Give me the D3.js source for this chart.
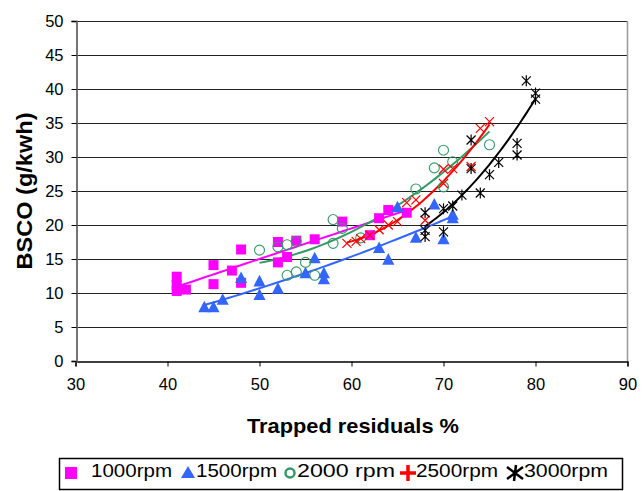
<!DOCTYPE html>
<html><head><meta charset="utf-8">
<script src="https://cdn.jsdelivr.net/npm/d3@7/dist/d3.min.js"></script>
<style>body{margin:0;background:#fff}svg{display:block}text{font-family:Arial,"Liberation Sans",sans-serif}</style>
</head><body><svg id="c" width="642" height="491"></svg>
<script>
// ---- data ----
const xTicks = [30,40,50,60,70,80,90];
const yTicks = [0,5,10,15,20,25,30,35,40,45,50];
const seriesNames = ["1000rpm","1500rpm","2000 rpm","2500rpm","3000rpm"];
const rpm1000 = [[41,12.4],[41,11.2],[41,10.3],[42,10.5],[45,14.1],[45,11.3],[47,13.3],[48,16.4],[48,11.5],[52,17.5],[52,14.5],[53,15.3],[54,17.7],[56,17.9],[59,20.5],[62,18.5],[63,21],[64,22.2],[66,21.8]];
const rpm1500 = [[44,7.9],[45,7.9],[46,9],[48,12.2],[50,11.7],[50,9.7],[52,10.6],[55,12.9],[56,15.1],[57,12.9],[57,12],[63,16.6],[64,14.9],[65,22.6],[67,18.1],[69,23],[70,17.9],[71,21.5],[71,21]];
const rpm2000 = [[50,16.3],[52,16.8],[53,17.1],[54,17.6],[53,12.6],[54,13.1],[55,14.5],[56,12.6],[58,20.8],[59,19.5],[58,17.3],[61,18.1],[67,25.3],[69,28.4],[70,31],[71,29.3],[75,31.8],[70,25.6]];
const rpm2500 = [[59.5,17.3],[60.5,17.6],[61,18],[62,18.5],[63,19.3],[64,20],[65,20.5],[66,23.3],[67,23.7],[68,20.7],[70,26.1],[70,28.2],[71,28.3],[73,28.6],[74,34.2],[75,35.2]];
const rpm3000 = [[68,21.8],[68,19.2],[68,18.3],[70,22.4],[70,19],[71,22.8],[72,24.4],[73,32.5],[73,28.3],[74,24.7],[75,27.4],[76,29.2],[78,32],[78,30.3],[79,41.2],[80,39.4],[80,38.5]];
const seriesData = [rpm1000, rpm1500, rpm2000, rpm2500, rpm3000];
const colors = ["#FF00FF","#3366FF","#339966","#FF0000","#000000"];

// ---- chart ----
const svg = d3.select("#c");
const x = d3.scaleLinear().domain([30,90]).range([75.5,627.5]);
const y = d3.scaleLinear().domain([0,50]).range([361,21]);

// gridlines
svg.append("g").selectAll("line").data(yTicks.filter(d=>d>0)).join("line")
  .attr("x1",x(30)).attr("x2",x(90)).attr("y1",d=>Math.round(y(d))+0.5).attr("y2",d=>Math.round(y(d))+0.5)
  .attr("stroke","#222").attr("stroke-width",1);
// right border
svg.append("line").attr("x1",x(90)).attr("x2",x(90)).attr("y1",y(50)).attr("y2",y(0)).attr("stroke","#999").attr("stroke-width",1.5);

// axes
const gx = svg.append("g").attr("transform",`translate(0,${Math.round(y(0))+0.5})`)
  .call(d3.axisBottom(x).tickValues(xTicks).tickSize(5).tickPadding(12));
const gy = svg.append("g").attr("transform",`translate(${Math.round(x(30))+0.5},0)`)
  .call(d3.axisLeft(y).tickValues(yTicks).tickSize(5).tickPadding(8));
[gx,gy].forEach(g=>{
  g.select(".domain").attr("stroke","#000").attr("stroke-width",1.3);
  g.selectAll(".tick line").attr("stroke","#000");
  g.selectAll(".tick text").attr("font-size",16.5).attr("fill","#000").attr("font-family","Arial, 'Liberation Sans', sans-serif");
});
gy.select(".domain").attr("stroke","#666").attr("stroke-width",1.8);

// quadratic least squares trend
function quadFit(pts){
  let n=pts.length,sx=0,sx2=0,sx3=0,sx4=0,sy=0,sxy=0,sx2y=0;
  const mx=d3.mean(pts,p=>p[0]);
  pts.forEach(([a,b])=>{const u=a-mx;sx+=u;sx2+=u*u;sx3+=u*u*u;sx4+=u*u*u*u;sy+=b;sxy+=u*b;sx2y+=u*u*b;});
  const M=[[n,sx,sx2,sy],[sx,sx2,sx3,sxy],[sx2,sx3,sx4,sx2y]];
  for(let i=0;i<3;i++){for(let k=i+1;k<3;k++){const f=M[k][i]/M[i][i];for(let j=i;j<4;j++)M[k][j]-=f*M[i][j];}}
  const c=[0,0,0];
  for(let i=2;i>=0;i--){let s=M[i][3];for(let j=i+1;j<3;j++)s-=M[i][j]*c[j];c[i]=s/M[i][i];}
  return v=>{const u=v-mx;return c[0]+c[1]*u+c[2]*u*u;};
}
const line = d3.line().x(d=>x(d[0])).y(d=>y(d[1]));
seriesData.forEach((pts,i)=>{
  const f=quadFit(pts);
  const [a,b]=d3.extent(pts,p=>p[0]);
  const samp=d3.range(0,41).map(k=>{const v=a+(b-a)*k/40;return [v,f(v)];});
  svg.append("path").attr("d",line(samp)).attr("fill","none").attr("stroke",colors[i]).attr("stroke-width",2);
});

// markers
function drawMarker(g,type,cx,cy,col,s){
  if(type===0){g.append("rect").attr("x",cx-s/2).attr("y",cy-s/2).attr("width",s).attr("height",s).attr("fill",col);}
  else if(type===1){g.append("path").attr("d",`M${cx},${cy-s*0.6}L${cx+s*0.55},${cy+s*0.45}L${cx-s*0.55},${cy+s*0.45}Z`).attr("fill",col);}
  else if(type===2){g.append("circle").attr("cx",cx).attr("cy",cy).attr("r",s*0.5).attr("fill","none").attr("stroke",col).attr("stroke-width",1.1);}
  else if(type===3){const h=s/2;g.append("path").attr("d",`M${cx-h},${cy-h}L${cx+h},${cy+h}M${cx-h},${cy+h}L${cx+h},${cy-h}`).attr("stroke",col).attr("stroke-width",1.2).attr("fill","none");}
  else {const h=s/2;g.append("path").attr("d",`M${cx-h},${cy-h}L${cx+h},${cy+h}M${cx-h},${cy+h}L${cx+h},${cy-h}M${cx},${cy-h-1}L${cx},${cy+h+1}`).attr("stroke",col).attr("stroke-width",1.2).attr("fill","none");}
}
const mg = svg.append("g");
seriesData.forEach((pts,i)=>{
  pts.forEach(p=>drawMarker(mg,i,x(p[0]),y(p[1]),colors[i],i===1?11:(i===0?10:(i===2?10:9))));
});

// titles
svg.append("text").attr("x",353).attr("y",433).attr("text-anchor","middle").attr("font-size",21).attr("font-weight","bold")
  .attr("textLength",212).attr("lengthAdjust","spacingAndGlyphs").text("Trapped residuals %");
svg.append("text").attr("transform","translate(32,191) rotate(-90)").attr("text-anchor","middle").attr("font-size",22).attr("font-weight","bold")
  .attr("textLength",157).attr("lengthAdjust","spacingAndGlyphs").text("BSCO (g/kwh)");

// legend
svg.append("rect").attr("x",59.5).attr("y",458.5).attr("width",563).attr("height",31).attr("fill","#fff").attr("stroke","#000").attr("stroke-width",1.5);
const legX = [71,188,290,408,515];
const lg = svg.append("g");
seriesNames.forEach((nm,i)=>{
  const cx=legX[i], cy=472;
  if(i===0) lg.append("rect").attr("x",cx-6).attr("y",cy-5).attr("width",12).attr("height",12).attr("fill",colors[0]);
  else if(i===1) lg.append("path").attr("d",`M${cx},${cy-6}L${cx+7},${cy+6}L${cx-7},${cy+6}Z`).attr("fill",colors[1]);
  else if(i===2) lg.append("circle").attr("cx",cx).attr("cy",cy+1).attr("r",4.5).attr("fill","none").attr("stroke",colors[2]).attr("stroke-width",2.5);
  else if(i===3) lg.append("path").attr("d",`M${cx-8},${cy+1}L${cx+8},${cy+1}M${cx},${cy-7}L${cx},${cy+9}`).attr("stroke",colors[3]).attr("stroke-width",3.5);
  else lg.append("path").attr("d",`M${cx-8},${cy-5}L${cx+8},${cy+7}M${cx-8},${cy+7}L${cx+8},${cy-5}M${cx+1},${cy-7}L${cx-1},${cy+9}`).attr("stroke","#000").attr("stroke-width",2.5);
  lg.append("text").attr("x",[91,196,297,416,524][i]).attr("y",477).attr("font-size",18).attr("textLength",[81,81,98,82,84][i]).attr("lengthAdjust","spacingAndGlyphs").text(nm);
});
</script></body></html>
